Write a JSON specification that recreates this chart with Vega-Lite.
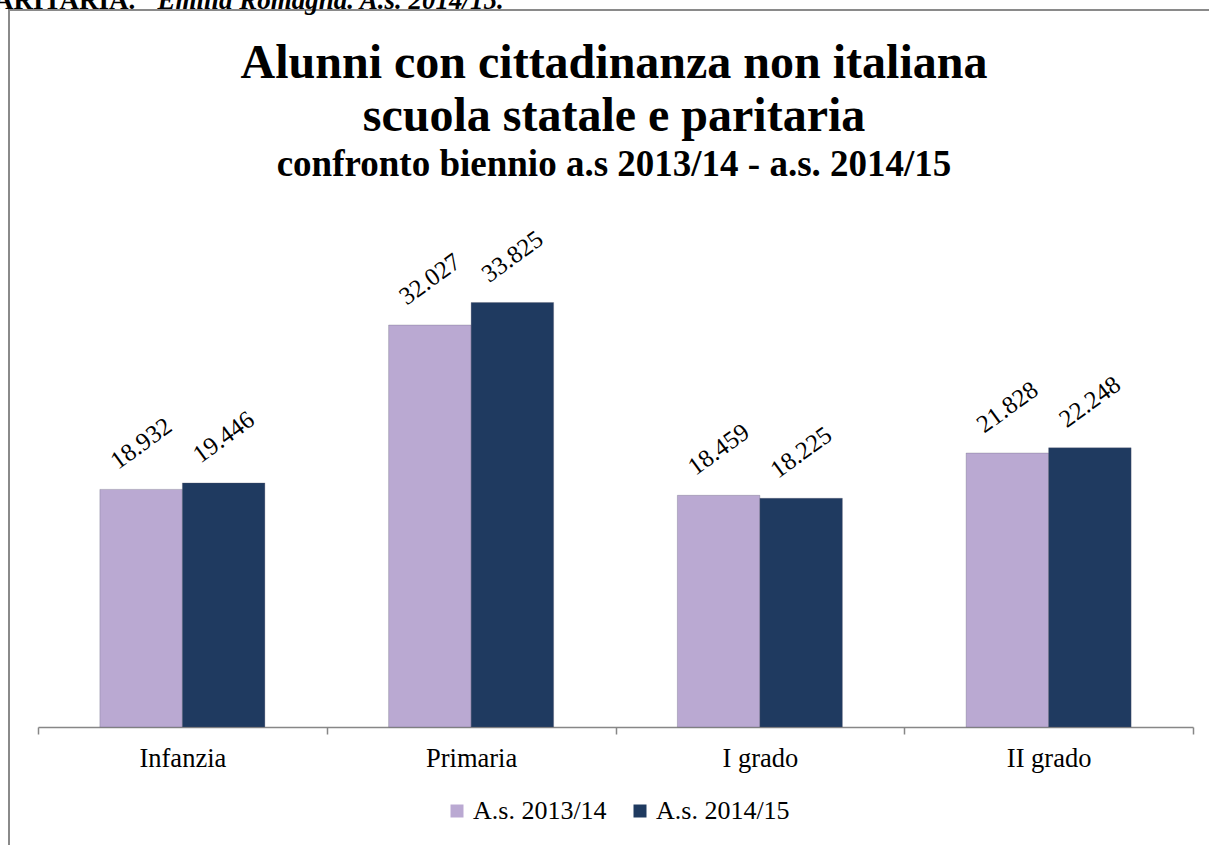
{
  "$schema": "https://vega.github.io/schema/vega-lite/v6.json",
  "width": 1210,
  "height": 845,
  "autosize": {"type": "none"},
  "padding": {"left": 9, "top": 10, "right": -10, "bottom": -10},
  "background": "white",
  "config": {
    "font": "Liberation Serif",
    "view": {"stroke": "#8a8a8a", "strokeWidth": 2},
    "locale": {"number": {"decimal": ",", "thousands": ".", "grouping": [3], "currency": ["€", ""]}}
  },
  "title": {
    "text": ["Alunni con cittadinanza non italiana", "scuola statale e paritaria"],
    "subtitle": "confronto biennio a.s 2013/14 - a.s. 2014/15",
    "font": "Liberation Serif",
    "fontSize": 48,
    "fontWeight": "bold",
    "lineHeight": 53,
    "color": "black",
    "subtitleFont": "Liberation Serif",
    "subtitleFontSize": 37,
    "subtitleFontWeight": "bold",
    "subtitleColor": "black",
    "subtitlePadding": 6,
    "anchor": "middle",
    "frame": "group",
    "offset": -197
  },
  "data": {
    "values": [
      {"livello": "Infanzia", "anno": "A.s. 2013/14", "alunni": 18932},
      {"livello": "Infanzia", "anno": "A.s. 2014/15", "alunni": 19446},
      {"livello": "Primaria", "anno": "A.s. 2013/14", "alunni": 32027},
      {"livello": "Primaria", "anno": "A.s. 2014/15", "alunni": 33825},
      {"livello": "I grado", "anno": "A.s. 2013/14", "alunni": 18459},
      {"livello": "I grado", "anno": "A.s. 2014/15", "alunni": 18225},
      {"livello": "II grado", "anno": "A.s. 2013/14", "alunni": 21828},
      {"livello": "II grado", "anno": "A.s. 2014/15", "alunni": 22248}
    ]
  },
  "encoding": {
    "x": {
      "field": "livello",
      "type": "nominal",
      "sort": ["Infanzia", "Primaria", "I grado", "II grado"],
      "scale": {"paddingInner": 0, "paddingOuter": 0, "range": [29, 1184]},
      "axis": {
        "title": null,
        "offset": -128,
        "labelAngle": 0,
        "labelFont": "Liberation Serif",
        "labelFontSize": 26.5,
        "labelColor": "black",
        "labelPadding": 11,
        "tickBand": "extent",
        "tickSize": 7,
        "tickColor": "#878787",
        "domainColor": "#878787",
        "domainWidth": 1.5,
        "tickWidth": 1.5
      }
    },
    "xOffset": {"field": "anno", "type": "nominal", "scale": {"paddingInner": 0, "paddingOuter": 0.75}},
    "y": {
      "field": "alunni",
      "type": "quantitative",
      "scale": {"domain": [0, 40000], "range": [717, 215]}
    }
  },
  "resolve": {"axis": {"y": "independent"}},
  "layer": [
    {
      "mark": {"type": "bar", "stroke": "#5a5a6e", "strokeWidth": 0.6, "strokeOpacity": 0.5},
      "encoding": {
        "y": {
          "field": "alunni",
          "type": "quantitative",
          "scale": {"domain": [0, 40000], "range": [717, 215]},
          "axis": {
            "orient": "left",
            "title": "PARITARIA.",
            "titleAngle": 0,
            "titleAlign": "left",
            "titleBaseline": "alphabetic",
            "titleX": -30,
            "titleY": -2,
            "titleFont": "Liberation Serif",
            "titleFontSize": 27,
            "titleFontWeight": "bold",
            "titleColor": "black",
            "labels": false,
            "ticks": false,
            "domain": false,
            "grid": false
          }
        },
        "color": {
          "field": "anno",
          "type": "nominal",
          "scale": {"domain": ["A.s. 2013/14", "A.s. 2014/15"], "range": ["#BAA9D2", "#1F3A60"]},
          "legend": {
            "title": null,
            "orient": "none",
            "direction": "horizontal",
            "legendX": 435,
            "legendY": 788,
            "symbolType": "square",
            "symbolSize": 169,
            "symbolStrokeWidth": 0,
            "labelFont": "Liberation Serif",
            "labelFontSize": 26,
            "labelColor": "black",
            "labelOffset": 3,
            "columnPadding": 20
          }
        }
      }
    },
    {
      "mark": {"type": "text", "angle": -36, "align": "center", "baseline": "middle", "yOffset": -46, "fontSize": 25, "font": "Liberation Serif", "color": "black"},
      "encoding": {
        "y": {
          "field": "alunni",
          "type": "quantitative",
          "scale": {"domain": [0, 40000], "range": [717, 215]},
          "axis": {
            "orient": "right",
            "title": "Emilia Romagna. A.s. 2014/15.",
            "titleAngle": 0,
            "titleAlign": "left",
            "titleBaseline": "alphabetic",
            "titleX": -1062,
            "titleY": -2,
            "titleFont": "Liberation Serif",
            "titleFontSize": 27,
            "titleFontWeight": "bold",
            "titleFontStyle": "italic",
            "titleColor": "black",
            "labels": false,
            "ticks": false,
            "domain": false,
            "grid": false
          }
        },
        "text": {"field": "alunni", "type": "quantitative", "format": ",.0f"}
      }
    }
  ]
}
